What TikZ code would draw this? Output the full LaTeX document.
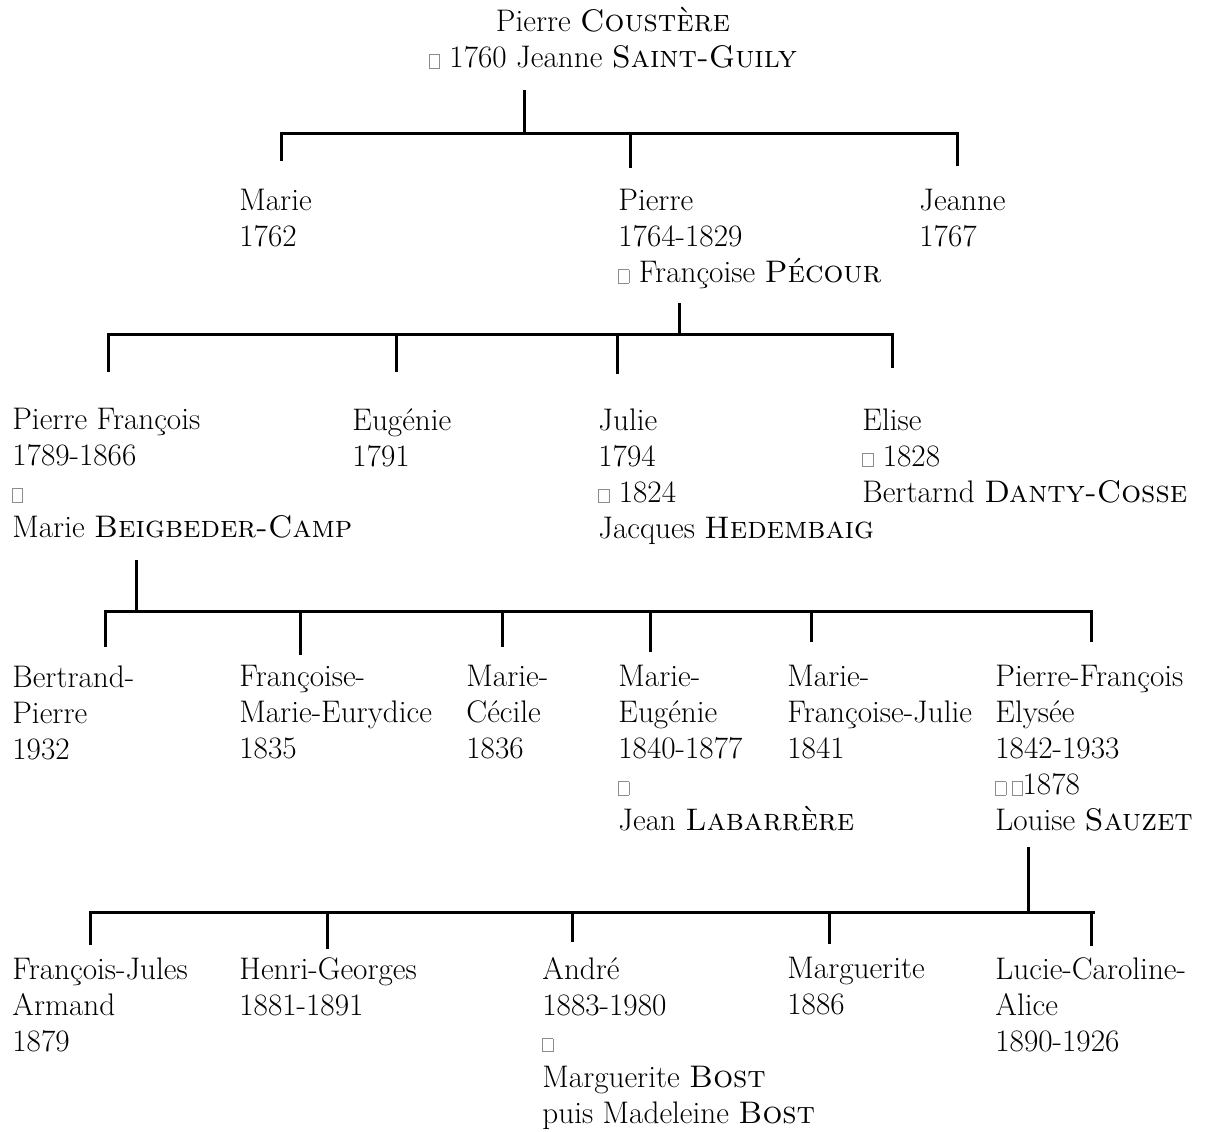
\documentclass[tikz,border=0pt]{standalone}
\usepackage{fontspec}
\newcommand\mk{{\color{black!45}\setlength\fboxsep{0pt}\setlength\fboxrule{0.45pt}\fbox{\rule{0pt}{6.2pt}\rule{4.6pt}{0pt}}}}
\tikzset{
  person/.style={anchor=north west, inner sep=0pt, align=left,
    font=\fontsize{15.6}{18}\selectfont, execute at begin node=\strut},
  link/.style={line width=1.5pt, line cap=rect},
}
\begin{document}
\begin{tikzpicture}[x=0.5pt, y=-0.5pt]
\useasboundingbox (0,0) rectangle (1208,1131);

% Generation 1
\node[person, anchor=north, align=center] (p0) at (613,7) {Pierre \textsc{Coustère}\\ \mk\ 1760 Jeanne \textsc{Saint-Guily}};

% Generation 2
\node[person] (g2a) at (239,189) {Marie\\1762};
\node[person] (g2b) at (618,189) {Pierre\\1764-1829\\\mk\ Françoise \textsc{Pécour}};
\node[person] (g2c) at (919,189) {Jeanne\\1767};

% Generation 3
\node[person] (g3a) at (12,408) {Pierre François\\1789-1866\\\mk\\Marie \textsc{Beigbeder-Camp}};
\node[person] (g3b) at (352,408) {Eugénie\\1791};
\node[person] (g3c) at (598,408) {Julie\\1794\\\mk\ 1824\\Jacques \textsc{Hedembaig}};
\node[person] (g3d) at (862,408) {Elise\\\mk\ 1828\\Bertarnd \textsc{Danty-Cosse}};

% Generation 4
\node[person] (g4a) at (12,665) {Bertrand-\\Pierre\\1932};
\node[person] (g4b) at (239,665) {Françoise-\\Marie-Eurydice\\1835};
\node[person] (g4c) at (466,665) {Marie-\\Cécile\\1836};
\node[person] (g4d) at (618,665) {Marie-\\Eugénie\\1840-1877\\\mk\\Jean \textsc{Labarrère}};
\node[person] (g4e) at (787,665) {Marie-\\Françoise-Julie\\1841};
\node[person] (g4f) at (995,665) {Pierre-François\\Elysée\\1842-1933\\\mk\,\mk{}1878\\Louise \textsc{Sauzet}};

% Generation 5
\node[person] (g5a) at (12,957) {François-Jules\\Armand\\1879};
\node[person] (g5b) at (239,957) {Henri-Georges\\1881-1891};
\node[person] (g5c) at (542,957) {André\\1883-1980\\\mk\\Marguerite \textsc{Bost}\\puis Madeleine \textsc{Bost}};
\node[person] (g5d) at (787,957) {Marguerite\\1886};
\node[person] (g5e) at (995,957) {Lucie-Caroline-\\Alice\\1890-1926};

% Connectors: generation 1 -> 2
\coordinate (s0) at (524,91);
\coordinate (j0) at (524,133);
\coordinate (l0) at (281,133);
\coordinate (r0) at (957,133);
\coordinate (d2a) at (281,159);
\coordinate (t2b) at (630,133);
\coordinate (d2b) at (630,166);
\coordinate (d2c) at (957,164);
\draw[link] (s0) -- (j0);
\draw[link] (d2a) -- (l0) -- (r0) -- (d2c);
\draw[link] (t2b) -- (d2b);

% generation 2 -> 3
\coordinate (s1) at (679,304);
\coordinate (j1) at (679,334);
\coordinate (l1) at (108,334);
\coordinate (r1) at (892,334);
\coordinate (d3a) at (108,370);
\coordinate (t3b) at (396,337);
\coordinate (d3b) at (396,370);
\coordinate (t3c) at (617,337);
\coordinate (d3c) at (617,372);
\coordinate (d3d) at (892,366);
\draw[link] (s1) -- (j1);
\draw[link] (d3a) -- (l1) -- (r1) -- (d3d);
\draw[link] (t3b) -- (d3b);
\draw[link] (t3c) -- (d3c);

% generation 3 -> 4
\coordinate (s2) at (136,561);
\coordinate (j2) at (136,611);
\coordinate (l2) at (105,611);
\coordinate (r2) at (1091,611);
\coordinate (d4a) at (105,645);
\coordinate (t4b) at (300,614);
\coordinate (d4b) at (300,653);
\coordinate (t4c) at (502,614);
\coordinate (d4c) at (502,645);
\coordinate (t4d) at (650,614);
\coordinate (d4d) at (650,650);
\coordinate (t4e) at (811,614);
\coordinate (d4e) at (811,640);
\coordinate (d4f) at (1091,640);
\draw[link] (s2) -- (j2);
\draw[link] (d4a) -- (l2) -- (r2) -- (d4f);
\draw[link] (t4b) -- (d4b);
\draw[link] (t4c) -- (d4c);
\draw[link] (t4d) -- (d4d);
\draw[link] (t4e) -- (d4e);

% generation 4 -> 5
\coordinate (s3) at (1028,848);
\coordinate (j3) at (1028,912);
\coordinate (l3) at (90,912);
\coordinate (r3) at (1093,912);
\coordinate (d5a) at (90,943);
\coordinate (t5b) at (327,915);
\coordinate (d5b) at (327,947);
\coordinate (t5c) at (572,915);
\coordinate (d5c) at (572,940);
\coordinate (t5d) at (829,915);
\coordinate (d5d) at (829,942);
\coordinate (t5e) at (1091,915);
\coordinate (d5e) at (1091,944);
\draw[link] (s3) -- (j3);
\draw[link] (d5a) -- (l3) -- (r3);
\draw[link] (t5b) -- (d5b);
\draw[link] (t5c) -- (d5c);
\draw[link] (t5d) -- (d5d);
\draw[link] (t5e) -- (d5e);
\end{tikzpicture}
\end{document}
